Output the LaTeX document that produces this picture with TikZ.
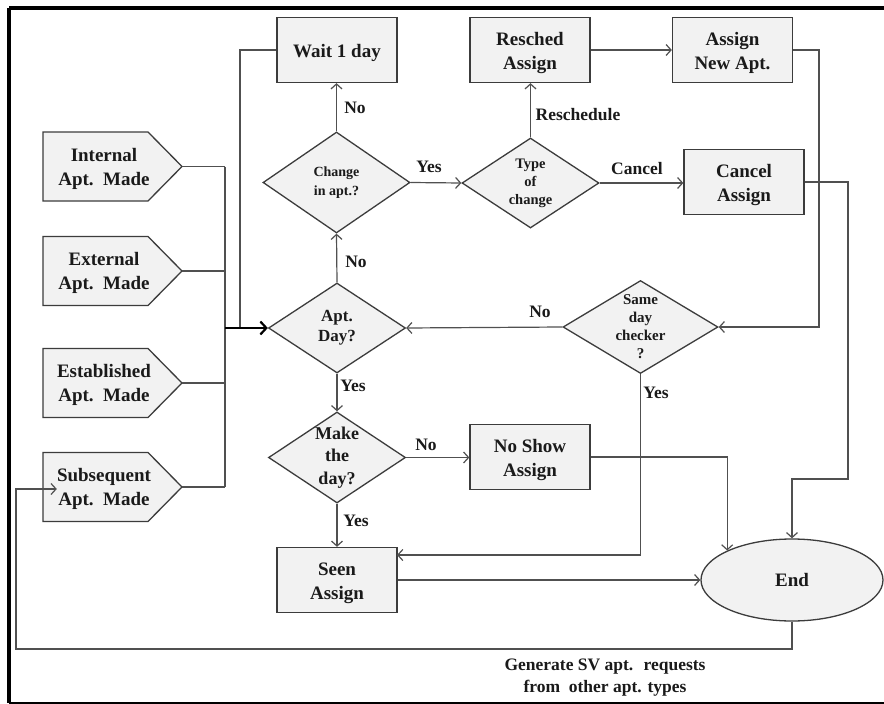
\documentclass[tikz,border=0pt]{standalone}
\usepackage{fontspec}
\setmainfont{Liberation Serif}
\usetikzlibrary{shapes.geometric,arrows.meta}
\definecolor{boxfill}{HTML}{F2F2F2}
\definecolor{bordc}{HTML}{3C3C3C}
\definecolor{linec}{HTML}{505050}
\definecolor{txtc}{HTML}{1A1A1A}
\newcommand\fs[2]{\fontsize{#1}{#2}\selectfont}
\newcommand\twol[2]{\raisebox{-3pt}[\height][\depth]{\begin{tabular}{@{}c@{}}#1\\#2\end{tabular}}}
\tikzset{
  boxnode/.style={draw=bordc, fill=boxfill, line width=1.3pt, minimum width=120pt, minimum height=65pt, inner sep=0pt, align=center, text=txtc, font=\bfseries\fs{19}{24}},
  dianode/.style={diamond, draw=bordc, fill=boxfill, line width=1.3pt, inner sep=-30pt, align=center, text=txtc},
  pentshape/.style={draw=bordc, fill=boxfill, line width=1.3pt},
  penttext/.style={inner sep=0pt, align=center, text=txtc, font=\bfseries\fs{19}{24}},
  con/.style={draw=linec, line width=1.2pt, -{Straight Barb[length=5pt,width=11pt,line width=1.2pt]}},
  plainline/.style={draw=linec, line width=1.2pt},
  lbl/.style={inner sep=0pt, text=txtc, font=\bfseries\fs{17.5}{22}, align=center},
}
\newcommand\pent[3]{%
  \path[pentshape] (43,#2-34.5) -- (148,#2-34.5) -- (182,#2) -- (148,#2+34.5) -- (43,#2+34.5) -- cycle;
  \node[penttext] (#1) at (104,#2+2) {#3};
  \coordinate (#1T) at (182,#2);
}
\begin{document}
\begin{tikzpicture}[x=1pt,y=-1pt]
\useasboundingbox (0,0) rectangle (884,704);
\fill[white] (0,0) rectangle (884,704);
\draw[line width=3.5pt, black] (9,8) -- (892,8);
\draw[line width=3.5pt, black] (9,8) -- (9,703);
\draw[line width=2.5pt, black] (9,703) -- (892,703);

% pentagons
\pent{int}{166.5}{Internal\\Apt.~~Made}
\pent{ext}{271}{External\\Apt.~~Made}
\pent{est}{383}{Established\\Apt.~~Made}
\pent{sub}{487}{Subsequent\\Apt.~~Made}

% boxes
\node[boxnode] (wait) at (337,50) {\raisebox{-3pt}[\height][\depth]{Wait 1 day}};
\node[boxnode] (res) at (530,50) {\twol{Resched}{Assign}};
\node[boxnode] (anew) at (732.5,50) {\twol{Assign}{New Apt.}};
\node[boxnode] (can) at (744,182) {\twol{Cancel}{Assign}};
\node[boxnode] (ns) at (530,457) {\twol{No Show}{Assign}};
\node[boxnode] (seen) at (337,580) {\twol{Seen}{Assign}};

% diamonds
\node[dianode, minimum width=147pt, minimum height=101pt, font=\bfseries\fs{14}{19}] (chg) at (336.5,182.5) {Change\\in apt.?};
\node[dianode, minimum width=137pt, minimum height=90pt, font=\bfseries\fs{14.5}{18}] (typ) at (530.5,183) {Type\\of\\change};
\node[dianode, minimum width=137pt, minimum height=90pt, font=\bfseries\fs{17}{20}] (apt) at (337,328) {Apt.\\Day?};
\node[dianode, minimum width=137pt, minimum height=91pt, font=\bfseries\fs{18}{22.5}] (mk) at (337,457.5) {Make\\the\\day?};
\node[dianode, minimum width=155pt, minimum height=93pt, font=\bfseries\fs{15}{18}] (same) at (640.5,327) {Same\\day\\checker\\?};

% end
\node[ellipse, draw=bordc, fill=boxfill, line width=1.3pt, minimum width=182pt, minimum height=82pt, inner sep=0pt, text=txtc, font=\bfseries\fs{19}{22}] (end) at (792,580) {End};

% coordinates
\coordinate (busT) at (225,166.5);
\coordinate (busB) at (225,487);
\coordinate (busM) at (225,328);
\coordinate (waitL) at (240,50);
\coordinate (waitJ) at (240,328);
\coordinate (anR) at (819,50);
\coordinate (canR1) at (848,182);
\coordinate (canR2) at (848,479);
\coordinate (sameD) at (640.5,555);
\coordinate (seenIn) at (397,555);
\coordinate (endD) at (792,649);
\coordinate (loopL) at (16,649);

% input bus
\draw[plainline] (intT) -- (busT);
\draw[plainline] (extT) -- (225,271);
\draw[plainline] (estT) -- (225,383);
\draw[plainline] (subT) -- (busB);
\draw[plainline] (busT) -- (busB);
\draw[plainline] (wait.west) -- (waitL) -- (waitJ);
\draw[black, line width=2.2pt, -{Straight Barb[length=6pt,width=13pt,line width=2.2pt]}] (busM) -- (apt.west);

% main connectors
\draw[con] (chg.north) -- (chg.north |- wait.south);
\draw[con] (apt.north) -- (chg.south);
\draw[con] (chg.east) -- (typ.west);
\draw[con] (typ.north) -- (typ.north |- res.south);
\draw[con] (res.east) -- (anew.west);
\draw[con] (typ.east) -- (typ.east -| can.west);
\draw[con] (anew.east) -- (anR) |- (same.east);
\draw[con] (can.east) -- (canR1) -- (canR2) -| (end.north);
\draw[con] (same.west) -- (apt.east);
\draw[con] (same.south) -- (sameD) -- (seenIn);
\draw[con] (apt.south) -- (mk.north);
\draw[con] (mk.east) -- (mk.east -| ns.west);
\draw[con] (mk.south) -- (seen.north);
\draw[con] (ns.east) -| (end.north west);
\draw[con] (seen.east) -- (end.west);
\draw[con] (end.south) -- (endD) -- (loopL) |- (sub.west);

% labels
\node[lbl] (l1) at (355,108) {No};
\node[lbl] (l2) at (356,262) {No};
\node[lbl] (l3) at (429,167) {Yes};
\node[lbl] (l4) at (578,115) {Reschedule};
\node[lbl] (l5) at (637,169) {Cancel};
\node[lbl] (l6) at (540,312) {No};
\node[lbl] (l7) at (656,393) {Yes};
\node[lbl] (l8) at (353,386) {Yes};
\node[lbl] (l9) at (426,445) {No};
\node[lbl] (l10) at (356,521) {Yes};
\node[lbl, font=\bfseries\fs{17.5}{22}] (gen) at (605,678) {Generate SV apt.~ requests\\from~ other apt. types};
\end{tikzpicture}
\end{document}
